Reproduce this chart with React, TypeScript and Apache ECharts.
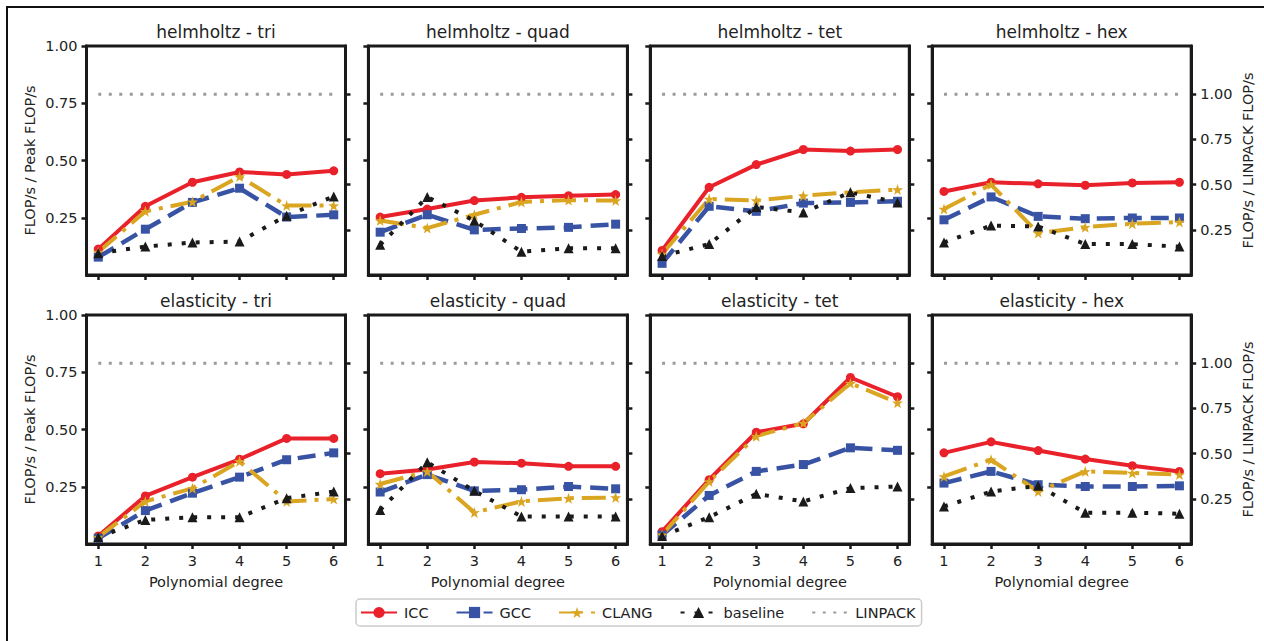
import React, { useEffect, useRef } from "react";
import * as echarts from "echarts";

// ---------- data ----------
const degrees = [1, 2, 3, 4, 5, 6];
const panelTitles = [
  "helmholtz - tri",
  "helmholtz - quad",
  "helmholtz - tet",
  "helmholtz - hex",
  "elasticity - tri",
  "elasticity - quad",
  "elasticity - tet",
  "elasticity - hex",
];
const seriesNames = ["ICC", "GCC", "CLANG", "baseline", "LINPACK"];
const yTicks = [0.25, 0.5, 0.75, 1.0];
const linpackFraction = 0.789; // LINPACK FLOP/s / Peak FLOP/s

const iccValues = [
  [0.113, 0.3, 0.405, 0.45, 0.439, 0.455],
  [0.253, 0.288, 0.325, 0.339, 0.346, 0.351],
  [0.107, 0.383, 0.482, 0.548, 0.541, 0.548],
  [0.365, 0.405, 0.398, 0.392, 0.402, 0.405],
  [0.035, 0.21, 0.292, 0.37, 0.461, 0.461],
  [0.307, 0.325, 0.358, 0.353, 0.339, 0.339],
  [0.054, 0.281, 0.488, 0.525, 0.727, 0.643],
  [0.398, 0.446, 0.408, 0.371, 0.342, 0.317],
];
const gccValues = [
  [0.078, 0.2, 0.317, 0.379, 0.253, 0.263],
  [0.187, 0.263, 0.197, 0.203, 0.208, 0.222],
  [0.051, 0.3, 0.278, 0.314, 0.317, 0.322],
  [0.241, 0.341, 0.256, 0.246, 0.249, 0.249],
  [0.025, 0.146, 0.222, 0.292, 0.368, 0.398],
  [0.227, 0.303, 0.232, 0.237, 0.251, 0.241],
  [0.039, 0.212, 0.317, 0.347, 0.42, 0.409],
  [0.266, 0.317, 0.259, 0.251, 0.251, 0.254],
];
const clangValues = [
  [0.1, 0.278, 0.32, 0.43, 0.303, 0.303],
  [0.238, 0.205, 0.263, 0.319, 0.327, 0.325],
  [0.092, 0.332, 0.325, 0.346, 0.361, 0.373],
  [0.288, 0.395, 0.183, 0.209, 0.224, 0.231],
  [0.03, 0.186, 0.243, 0.361, 0.186, 0.196],
  [0.262, 0.317, 0.138, 0.186, 0.2, 0.203],
  [0.04, 0.273, 0.471, 0.528, 0.702, 0.617],
  [0.295, 0.368, 0.229, 0.317, 0.31, 0.303],
];
const baselineValues = [
  [0.095, 0.124, 0.142, 0.146, 0.259, 0.343],
  [0.132, 0.341, 0.237, 0.102, 0.117, 0.117],
  [0.083, 0.135, 0.297, 0.273, 0.361, 0.317],
  [0.142, 0.216, 0.212, 0.135, 0.135, 0.124],
  [0.03, 0.105, 0.117, 0.117, 0.2, 0.229],
  [0.149, 0.357, 0.232, 0.12, 0.12, 0.12],
  [0.035, 0.117, 0.219, 0.186, 0.244, 0.251],
  [0.164, 0.229, 0.254, 0.137, 0.137, 0.132],
];

// ---------- styles ----------
const FONT = "DejaVu Sans";
const INK = "#1a1a1a";
const TEXT = "#222222";
const RED = "#e8212a";
const BLUE = "#3853a4";
const GOLD = "#daa520";
const BLACK = "#1a1a1a";
const GRAY = "#9b9b9b";
const STAR =
  "path://M50,0 L61.8,35.1 L97.6,34.5 L69.1,56.7 L79.4,90.5 L50,70 L20.6,90.5 L30.9,56.7 L2.4,34.5 L38.2,35.1 Z";

const GRID_LEFT0 = 86.5;
const GRID_STEP = 281.9;
const GRID_W = 259;
const GRID_TOPS = [46, 315];
const GRID_H = 229;

function buildOption() {
  const grids: any[] = [];
  const xAxes: any[] = [];
  const yAxes: any[] = [];
  const series: any[] = [];
  const titles: any[] = [];

  const tickStyle = { color: INK, width: 2.5 };
  const lineStyle = { color: INK, width: 3 };
  const labelStyle = { fontSize: 14.5, color: TEXT, fontFamily: FONT };

  for (let i = 0; i < 8; i++) {
    const r = Math.floor(i / 4);
    const c = i % 4;
    const left = GRID_LEFT0 + c * GRID_STEP;
    const top = GRID_TOPS[r];
    grids.push({
      left,
      top,
      width: GRID_W,
      height: GRID_H,
      show: true,
      borderColor: INK,
      borderWidth: 3,
      backgroundColor: "transparent",
    });
    titles.push({
      text: panelTitles[i],
      left: left + GRID_W / 2,
      top: top - 23,
      textAlign: "center",
      padding: 0,
      textStyle: { fontSize: 17, fontWeight: "normal", color: TEXT, fontFamily: FONT },
    });
    xAxes.push({
      gridIndex: i,
      type: "value",
      min: 0.75,
      max: 6.25,
      axisLine: { show: true, lineStyle },
      splitLine: { show: false },
      axisTick: { show: true, inside: false, length: 5, lineStyle: tickStyle, customValues: degrees },
      axisLabel: { show: r === 1, customValues: degrees, margin: 9, ...labelStyle },
      name: r === 1 ? "Polynomial degree" : "",
      nameLocation: "middle",
      nameGap: 30,
      nameTextStyle: labelStyle,
    });
    yAxes.push({
      gridIndex: i,
      type: "value",
      position: "left",
      min: 0,
      max: 1,
      axisLine: { show: true, lineStyle },
      splitLine: { show: false },
      axisTick: { show: true, inside: false, length: 5, lineStyle: tickStyle, customValues: yTicks },
      axisLabel: {
        show: c === 0,
        customValues: yTicks,
        formatter: (v: number) => v.toFixed(2),
        margin: 9,
        ...labelStyle,
      },
      name: c === 0 ? "FLOP/s / Peak FLOP/s" : "",
      nameLocation: "middle",
      nameRotate: 90,
      nameGap: 49,
      nameTextStyle: labelStyle,
    });
    yAxes.push({
      gridIndex: i,
      type: "value",
      position: "right",
      min: 0,
      max: 1 / linpackFraction,
      axisLine: { show: true, lineStyle },
      splitLine: { show: false },
      axisTick: { show: true, inside: false, length: 5, lineStyle: tickStyle, customValues: yTicks },
      axisLabel: {
        show: c === 3,
        customValues: yTicks,
        formatter: (v: number) => v.toFixed(2),
        margin: 9,
        ...labelStyle,
      },
      name: c === 3 ? "FLOP/s / LINPACK FLOP/s" : "",
      nameLocation: "middle",
      nameRotate: 90,
      nameGap: 49,
      nameTextStyle: labelStyle,
    });

    const mk = (
      name: string,
      vals: number[],
      color: string,
      width: number,
      type: any,
      symbol: string,
      size: number,
      markerColor: string = color
    ) => ({
      name,
      type: "line",
      xAxisIndex: i,
      yAxisIndex: 2 * i,
      data: degrees.map((d, k) => [d, vals[k]]),
      symbol,
      symbolSize: size,
      showSymbol: size > 0,
      lineStyle: { color, width, type },
      itemStyle: { color: markerColor, borderWidth: 0 },
      emphasis: { disabled: true },
      animation: false,
    });
    series.push(mk("ICC", iccValues[i], RED, 4, "solid", "circle", 9));
    series.push(mk("GCC", gccValues[i], BLUE, 4.5, [18, 9], "rect", 9));
    series.push(mk("CLANG", clangValues[i], GOLD, 4, [24, 8, 4, 8], STAR, 11));
    series.push(mk("baseline", baselineValues[i], BLACK, 4, [4, 10], "triangle", 10));
    series.push(
      mk(
        "LINPACK",
        degrees.map(() => linpackFraction),
        GRAY,
        3,
        [3, 7.5],
        "circle",
        0,
        "rgba(0,0,0,0)"
      )
    );
  }

  return {
    animation: false,
    backgroundColor: "#ffffff",
    title: titles,
    grid: grids,
    xAxis: xAxes,
    yAxis: yAxes,
    series,
    legend: {
      show: true,
      data: seriesNames,
      left: 356,
      top: 599,
      orient: "horizontal",
      itemWidth: 36,
      itemHeight: 14,
      itemGap: 27,
      padding: [6, 6, 6, 4],
      borderColor: "#cccccc",
      borderWidth: 1.5,
      borderRadius: 4,
      backgroundColor: "#ffffff",
      selectedMode: false,
      textStyle: { fontSize: 14.5, color: TEXT, fontFamily: FONT, padding: [0, 0, 0, 2] },
    },
    graphic: [
      {
        type: "rect",
        silent: true,
        z: -10,
        shape: { x: 7, y: 7, width: 1300, height: 700 },
        style: { fill: "none", stroke: "#111111", lineWidth: 2 },
      },
    ],
  };
}

export default function App() {
  const ref = useRef<HTMLDivElement>(null);
  useEffect(() => {
    if (!ref.current) return;
    const chart = echarts.init(ref.current, undefined, { renderer: "svg" });
    chart.setOption(buildOption() as any);
    return () => chart.dispose();
  }, []);
  return (
    <div
      ref={ref}
      style={{ position: "fixed", left: 0, top: 0, width: 1264, height: 641, background: "#fff" }}
    />
  );
}
